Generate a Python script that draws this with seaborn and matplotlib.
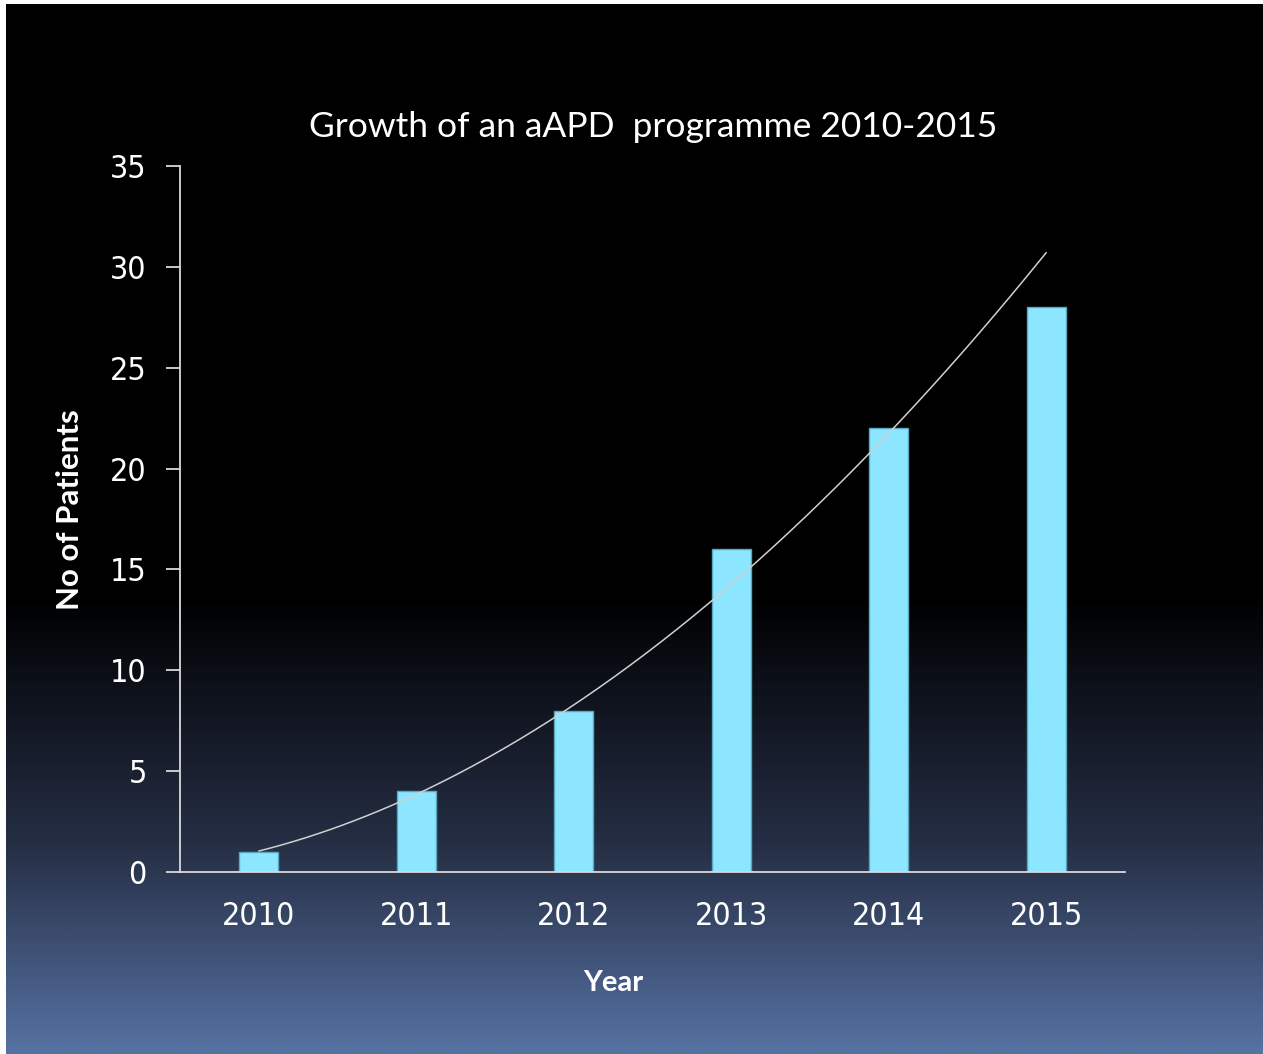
import numpy as np
import pandas as pd
import matplotlib
matplotlib.use("Agg")
import matplotlib.pyplot as plt
from matplotlib import font_manager
from matplotlib.font_manager import FontProperties
from matplotlib.colors import LinearSegmentedColormap
import seaborn as sns

years = ["2010", "2011", "2012", "2013", "2014", "2015"]
patients = [1, 4, 8, 16, 22, 28]
yticks = [0, 5, 10, 15, 20, 25, 30, 35]
title = "Growth of an aAPD  programme 2010-2015"
xlabel = "Year"
ylabel = "No of Patients"

sns.set_theme(style="white")
names = {f.name for f in font_manager.fontManager.ttflist}
head = "Lato" if "Lato" in names else "DejaVu Sans"
plt.rcParams["font.family"] = [head, "DejaVu Sans"]

# look for a narrow / condensed regular sans face for tick labels
cands = []
for f in font_manager.fontManager.ttflist:
    nm = f.name.lower()
    fn = f.fname.lower()
    cond = ("narrow" in nm or "condensed" in nm or "narrow" in fn or "condensed" in fn
            or f.stretch in ("condensed", "semi-condensed", "extra-condensed"))
    if not cond or f.style != "normal":
        continue
    if f.weight not in (400, "normal", "regular"):
        continue
    pri = 0 if ("liberation" in fn or "arial" in fn) else 1
    if "mono" in fn or ("serif" in fn and "sans" not in fn):
        pri += 5
    cands.append((pri, f.fname))
cands.sort()
if cands:
    narrow_fp = FontProperties(fname=cands[0][1], size=23)
else:
    narrow_fp = FontProperties(family=head, size=22)

W, H = 1263, 1054
fig = plt.figure(figsize=(W / 100, H / 100), dpi=100, facecolor="white")

# background gradient
bg = fig.add_axes([6 / W, 0, 1 - 6 / W, 1 - 4 / H])
bg.set_axis_off()
cmap = LinearSegmentedColormap.from_list(
    "bg", [(0, "#000000"), (0.565, "#000000"), (0.63, "#0a0d14"), (0.8, "#252e44"), (1.0, "#5672a3")])
grad = np.linspace(0, 1, 512).reshape(-1, 1)
bg.imshow(grad, aspect="auto", cmap=cmap, extent=[0, 1, 0, 1], origin="upper")
bg.set_xlim(0, 1); bg.set_ylim(0, 1)

ax = fig.add_axes([180 / W, 1 - 872 / H, (1125 - 180) / W, (872 - 166) / H])
ax.patch.set_alpha(0)
df = pd.DataFrame({"Year": years, "Patients": patients})
sns.barplot(data=df, x="Year", y="Patients", ax=ax, color="#8ce6ff",
            saturation=1, width=0.25, edgecolor="#5aa8c0", linewidth=1)

# power trendline fitted from data
xi = np.arange(1, len(patients) + 1)
b, lna = np.polyfit(np.log(xi), np.log(patients), 1)
xs = np.linspace(1, len(patients), 200)
ax.plot(xs - 1, np.exp(lna) * xs ** b, color="#d0d0d0", lw=1.1)

ax.set_xlim(-0.5, 5.5)
ax.set_ylim(0, 35)
ax.set_yticks(yticks)
ax.set_xlabel("")
ax.set_ylabel("")
for s in ["top", "right"]:
    ax.spines[s].set_visible(False)
for s in ["left", "bottom"]:
    ax.spines[s].set_color("#d9d9d9")
    ax.spines[s].set_linewidth(1.3)
ax.tick_params(axis="y", left=True, length=10, width=1.3, color="#d9d9d9", pad=14,
               labelcolor="white")
ax.tick_params(axis="x", bottom=False, pad=15, labelcolor="white")
for lab in ax.get_xticklabels() + ax.get_yticklabels():
    lab.set_fontproperties(narrow_fp)

fig.text(653 / W, 1 - 127 / H, title, color="white", fontsize=25.5, ha="center", va="center")
fig.text(70 / W, 1 - 510 / H, ylabel, color="white", fontsize=22.5, fontweight="bold",
         rotation=90, ha="center", va="center")
fig.text(613 / W, 1 - 983 / H, xlabel, color="white", fontsize=21, fontweight="bold",
         ha="center", va="center")

fig.savefig("out.png", dpi=100, facecolor="white")
